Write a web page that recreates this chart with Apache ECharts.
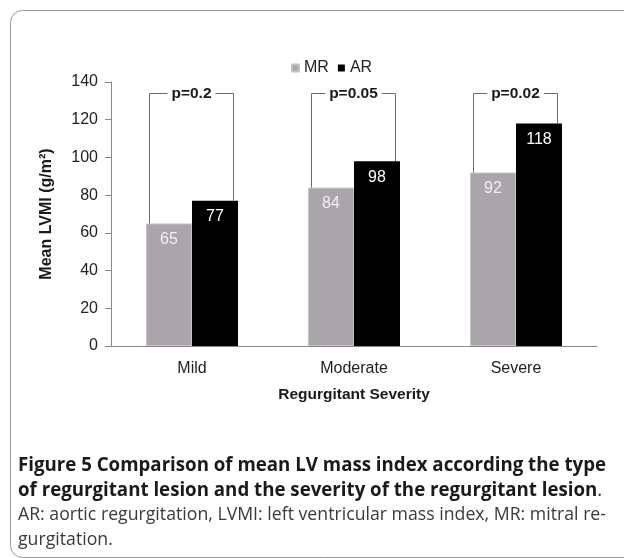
<!DOCTYPE html>
<html>
<head>
<meta charset="utf-8">
<script src="https://cdn.jsdelivr.net/npm/echarts@6/dist/echarts.min.js"></script>
<style>
  html, body { margin: 0; padding: 0; background: #fff; }
  #chart { width: 624px; height: 558px; }
</style>
</head>
<body>
<div id="chart"></div>
<script>
// data
var categories = ['Mild', 'Moderate', 'Severe']
var mrValues = [65, 84, 92]
var arValues = [77, 98, 118]
var pLabels = ['p=0.2', 'p=0.05', 'p=0.02']
var bracketTop = [134, 134, 134]

var captionLines = [
  'Figure 5 Comparison of mean LV mass index according the type',
  'of regurgitant lesion and the severity of the regurgitant lesion',
  'AR: aortic regurgitation, LVMI: left ventricular mass index, MR: mitral re-',
  'gurgitation.'
]

var axisFont = '"Liberation Sans", Arial, sans-serif'
var capFont = '"Open Sans", "Noto Sans", sans-serif'

// squeeze the caption font to the width of the original (narrow Myriad-like face)
function textWidth (font, text) {
  var ctx = document.createElement('canvas').getContext('2d')
  ctx.font = font
  return ctx.measureText(text).width
}
var boldScale = 588 / textWidth('bold 20px ' + capFont, captionLines[0])
var normScale = 588 / textWidth('18px ' + capFont, captionLines[2])

var bracketData = categories.map(function (c, i) {
  return [i, mrValues[i], arValues[i], bracketTop[i]]
})

function renderBracket (params, api) {
  var idx = api.value(0)
  var c = api.coord([idx, 0])[0]
  var yl = api.coord([idx, api.value(1)])[1]
  var yr = api.coord([idx, api.value(2)])[1]
  var yt = api.coord([idx, api.value(3)])[1]
  var xl = Math.round(c - 43) + 0.5
  var xr = Math.round(c + 41) + 0.5
  yt = Math.round(yt) + 0.5
  return {
    type: 'group',
    children: [
      {
        type: 'polyline',
        shape: { points: [[xl, yl], [xl, yt], [xr, yt], [xr, yr]] },
        style: { stroke: '#6a6a6a', lineWidth: 1, fill: 'none' }
      },
      {
        type: 'text',
        x: (xl + xr) / 2,
        y: yt,
        style: {
          text: pLabels[params.dataIndex],
          fontFamily: axisFont,
          fontWeight: 'bold',
          fontSize: 15.5,
          fill: '#1a1a1a',
          align: 'center',
          verticalAlign: 'middle',
          backgroundColor: '#fff',
          padding: [0, 4]
        }
      }
    ]
  }
}

var chart = echarts.init(document.getElementById('chart'))
chart.setOption({
  backgroundColor: '#fff',
  animation: false,
  legend: {
    data: ['MR', 'AR'],
    left: 286,
    top: 55,
    icon: 'rect',
    itemWidth: 7,
    itemHeight: 7,
    itemGap: 9,
    textStyle: { fontFamily: axisFont, fontSize: 16, color: '#222' }
  },
  grid: { left: 111, right: 27, top: 82, bottom: 212, containLabel: false },
  xAxis: {
    type: 'category',
    data: categories,
    name: 'Regurgitant Severity',
    nameLocation: 'middle',
    nameGap: 41,
    nameTextStyle: { fontFamily: axisFont, fontWeight: 'bold', fontSize: 15.5, color: '#1a1a1a' },
    axisLine: { lineStyle: { color: '#888' } },
    axisTick: { show: false },
    axisLabel: { fontFamily: axisFont, fontSize: 16, color: '#222', margin: 15 }
  },
  yAxis: {
    type: 'value',
    min: 0,
    max: 140,
    interval: 20,
    name: 'Mean LVMI (g/m²)',
    nameLocation: 'middle',
    nameGap: 56,
    nameTextStyle: { fontFamily: axisFont, fontWeight: 'bold', fontSize: 16, color: '#1a1a1a' },
    axisLine: { show: true, lineStyle: { color: '#888' } },
    axisTick: { show: true, length: 6, lineStyle: { color: '#888' } },
    splitLine: { show: false },
    axisLabel: { fontFamily: axisFont, fontSize: 16, color: '#222', margin: 13 }
  },
  series: [
    {
      name: 'MR',
      type: 'bar',
      data: mrValues,
      barWidth: 46,
      barGap: '0%',
      itemStyle: { color: '#a9a5ab', borderColor: '#c6c3c8', borderWidth: 1 },
      label: {
        show: true,
        position: 'insideTop',
        distance: 8,
        fontFamily: axisFont,
        fontSize: 16,
        color: '#efefef'
      }
    },
    {
      name: 'AR',
      type: 'bar',
      data: arValues,
      barWidth: 46,
      itemStyle: { color: '#000' },
      label: {
        show: true,
        position: 'insideTop',
        distance: 8,
        fontFamily: axisFont,
        fontSize: 16,
        color: '#fff'
      }
    },
    {
      name: 'brackets',
      type: 'custom',
      data: bracketData,
      encode: { x: 0, y: 3 },
      renderItem: renderBracket,
      z: 5
    }
  ],
  graphic: [
    {
      type: 'rect',
      left: 8,
      top: 8,
      shape: { width: 640, height: 547, r: 12 },
      style: { fill: 'none', stroke: '#9a9a9a', lineWidth: 1 },
      z: -1
    },
    {
      type: 'text',
      x: 18,
      y: 465,
      scaleX: boldScale,
      style: {
        text: captionLines[0],
        fontFamily: capFont,
        fontWeight: 'bold',
        fontSize: 20,
        fill: '#1a1a1a',
        verticalAlign: 'middle'
      }
    },
    {
      type: 'text',
      x: 18,
      y: 490,
      scaleX: boldScale,
      style: {
        text: '{b|' + captionLines[1] + '}{n|.}',
        verticalAlign: 'middle',
        rich: {
          b: { fontFamily: capFont, fontWeight: 'bold', fontSize: 20, fill: '#1a1a1a' },
          n: { fontFamily: capFont, fontSize: 20, fill: '#333' }
        }
      }
    },
    {
      type: 'text',
      x: 18,
      y: 515,
      scaleX: normScale,
      style: {
        text: captionLines[2],
        fontFamily: capFont,
        fontSize: 18,
        fill: '#3a3a3a',
        verticalAlign: 'middle'
      }
    },
    {
      type: 'text',
      x: 18,
      y: 540,
      scaleX: normScale,
      style: {
        text: captionLines[3],
        fontFamily: capFont,
        fontSize: 18,
        fill: '#3a3a3a',
        verticalAlign: 'middle'
      }
    }
  ]
})
</script>
</body>
</html>
